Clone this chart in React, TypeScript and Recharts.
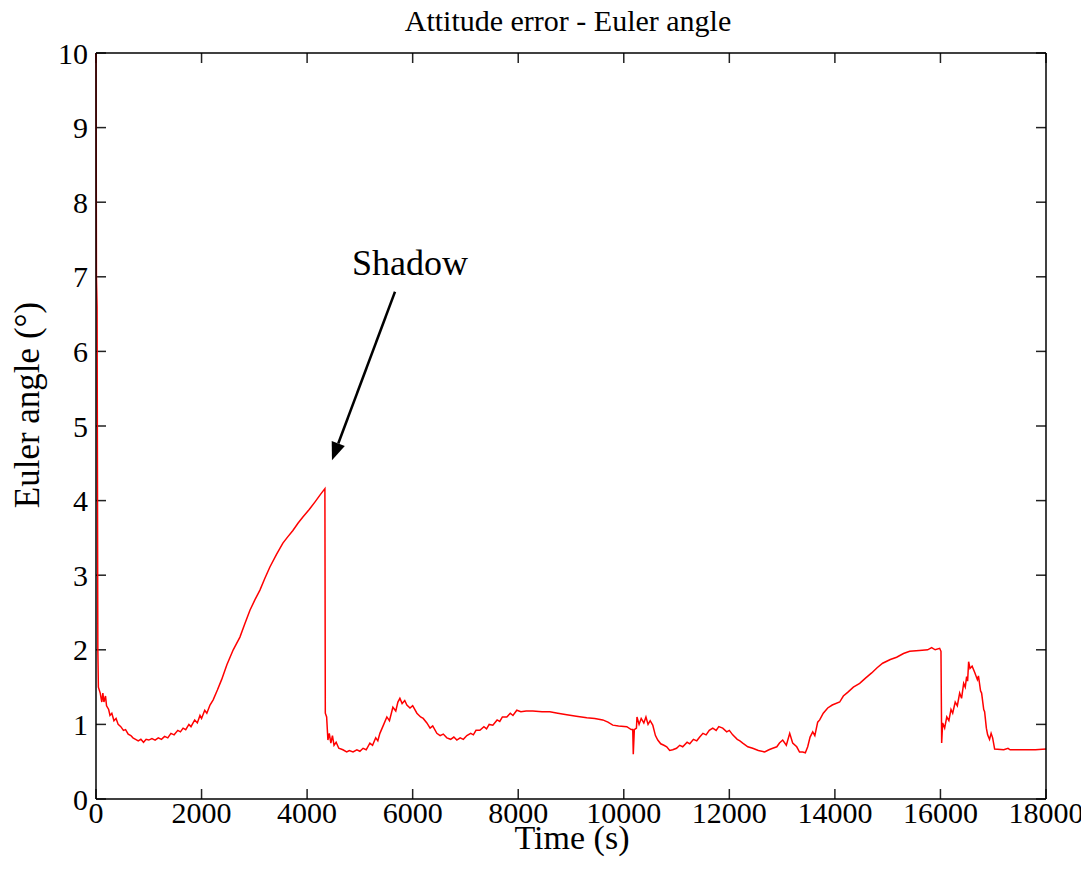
import React from 'react';
import { LineChart, Line, XAxis, YAxis, ReferenceLine, ReferenceDot, Customized } from 'recharts';

const timeS: number[] = [
  0, 8, 20, 35, 45, 80, 110, 130, 150, 180, 200, 240, 265, 300, 340, 380, 420, 470, 520, 560,
  610, 660, 700, 750, 800, 850, 900, 950, 1000, 1060, 1120, 1180, 1240, 1300, 1360, 1420, 1480, 1550, 1600, 1650,
  1700, 1760, 1800, 1870, 1920, 1970, 2000, 2060, 2100, 2160, 2220, 2300, 2380, 2480, 2600, 2727, 2820, 2917, 3010, 3106,
  3200, 3295, 3420, 3541, 3640, 3731, 3830, 3920, 4040, 4147, 4250, 4337, 4345, 4370, 4394, 4420, 4450, 4480, 4510, 4550,
  4600, 4678, 4750, 4800, 4870, 4943, 5000, 5060, 5120, 5189, 5240, 5300, 5340, 5379, 5440, 5511, 5560, 5625, 5680, 5720,
  5758, 5800, 5850, 5890, 5950, 6000, 6080, 6150, 6200, 6269, 6330, 6380, 6458, 6520, 6580, 6648, 6720, 6780, 6837, 6900,
  6960, 7027, 7100, 7150, 7200, 7273, 7350, 7400, 7450, 7519, 7600, 7650, 7700, 7784, 7850, 7900, 7973, 8050, 8150, 8277,
  8450, 8598, 8750, 8920, 9100, 9299, 9450, 9602, 9700, 9792, 9900, 10057, 10140, 10170, 10180, 10200, 10240, 10250, 10290, 10330,
  10380, 10420, 10460, 10500, 10549, 10600, 10644, 10700, 10760, 10814, 10870, 10928, 11000, 11060, 11117, 11200, 11250, 11320, 11383, 11439,
  11500, 11560, 11620, 11686, 11750, 11800, 11875, 11950, 12000, 12064, 12150, 12200, 12254, 12350, 12443, 12550, 12670, 12750, 12822, 12900,
  12950, 13011, 13080, 13144, 13200, 13277, 13330, 13390, 13440, 13485, 13530, 13580, 13620, 13674, 13712, 13780, 13864, 13950, 14091, 14160,
  14242, 14350, 14470, 14580, 14697, 14800, 14905, 15050, 15170, 15300, 15417, 15600, 15758, 15833, 15900, 15985, 16010, 16023, 16042, 16080,
  16120, 16160, 16200, 16232, 16280, 16320, 16364, 16400, 16440, 16470, 16496, 16515, 16534, 16560, 16600, 16648, 16700, 16720, 16760, 16780,
  16820, 16837, 16870, 16894, 16930, 16960, 16989, 17027, 17200, 17280, 17320, 17500, 17800, 18000,
];

const eulerDeg: number[] = [
  10.5, 7.0, 6.6, 2.0, 1.5, 1.42, 1.3, 1.42, 1.3, 1.38, 1.25, 1.2, 1.12, 1.15, 1.05, 1.08, 1.0, 0.97, 0.92, 0.93,
  0.87, 0.85, 0.82, 0.8, 0.78, 0.8, 0.76, 0.8, 0.79, 0.81, 0.79, 0.82, 0.8, 0.84, 0.82, 0.88, 0.86, 0.92, 0.9, 0.95,
  0.93, 1.0, 0.97, 1.06, 1.02, 1.12, 1.08, 1.19, 1.15, 1.26, 1.33, 1.46, 1.6, 1.8, 2.0, 2.17, 2.35, 2.53, 2.67, 2.8,
  2.96, 3.11, 3.28, 3.43, 3.52, 3.6, 3.7, 3.78, 3.88, 3.98, 4.08, 4.16, 1.15, 1.1, 0.79, 0.88, 0.75, 0.85, 0.72, 0.76,
  0.68, 0.66, 0.63, 0.65, 0.63, 0.66, 0.64, 0.68, 0.66, 0.75, 0.72, 0.82, 0.78, 0.88, 0.98, 1.1, 1.05, 1.23, 1.18, 1.3,
  1.35, 1.28, 1.32, 1.26, 1.22, 1.25, 1.15, 1.1, 1.08, 1.02, 0.95, 0.98, 0.88, 0.85, 0.87, 0.82, 0.8, 0.83, 0.79, 0.82,
  0.8, 0.85, 0.88, 0.86, 0.92, 0.92, 0.97, 0.94, 1.0, 0.99, 1.06, 1.04, 1.1, 1.1, 1.15, 1.12, 1.19, 1.17, 1.18, 1.18,
  1.17, 1.17, 1.15, 1.13, 1.11, 1.09, 1.08, 1.06, 1.03, 0.99, 0.98, 0.97, 0.93, 0.93, 0.6, 0.93, 0.95, 1.1, 1.0, 1.08,
  1.02, 1.1, 1.0, 1.05, 0.99, 0.85, 0.79, 0.74, 0.72, 0.7, 0.65, 0.66, 0.68, 0.72, 0.7, 0.76, 0.74, 0.8, 0.78, 0.83,
  0.88, 0.86, 0.92, 0.95, 0.92, 0.97, 0.95, 0.9, 0.92, 0.86, 0.8, 0.78, 0.75, 0.7, 0.68, 0.65, 0.63, 0.66, 0.68, 0.7,
  0.75, 0.79, 0.72, 0.88, 0.75, 0.7, 0.63, 0.63, 0.62, 0.7, 0.83, 0.9, 0.85, 1.03, 1.06, 1.15, 1.22, 1.26, 1.3, 1.38,
  1.43, 1.5, 1.55, 1.62, 1.69, 1.76, 1.82, 1.87, 1.9, 1.95, 1.98, 1.99, 2.0, 2.03, 2.0, 2.02, 1.98, 0.75, 1.02, 0.95,
  1.1, 1.05, 1.2, 1.15, 1.3, 1.25, 1.42, 1.35, 1.55, 1.5, 1.64, 1.58, 1.84, 1.75, 1.78, 1.7, 1.6, 1.65, 1.45, 1.42,
  1.2, 1.17, 0.95, 0.86, 0.8, 0.88, 0.82, 0.67, 0.66, 0.68, 0.66, 0.66, 0.66, 0.67,
];

const xTicks: number[] = [0, 2000, 4000, 6000, 8000, 10000, 12000, 14000, 16000, 18000];
const yTicks: number[] = [0, 1, 2, 3, 4, 5, 6, 7, 8, 9, 10];

const X_MIN = 0;
const X_MAX = 18000;
const Y_MIN = 0;
const Y_MAX = 10;
// inward tick length, in data units (about 10 px on each axis)
const X_TICK_LEN = 190;
const Y_TICK_LEN = 0.134;

const arrowFrom = { x: 5665, y: 6.8 };
const arrowTo = { x: 4471, y: 4.54 };
const shadowLabel = { x: 4850, y: 7.02, text: 'Shadow' };

const data = timeS.map((t, i) => ({ t, v: eulerDeg[i] }));

const FONT = '"Liberation Serif", "Times New Roman", serif';
const tickStyle = { fontFamily: FONT, fontSize: 30, fill: '#000' };
const axisLineStyle = { stroke: '#000', strokeWidth: 1.5 };

const ArrowShape = (p: any) => {
  const { x1, y1, x2, y2 } = p;
  const dx = x2 - x1;
  const dy = y2 - y1;
  const len = Math.sqrt(dx * dx + dy * dy);
  const ux = dx / len;
  const uy = dy / len;
  const headLen = 18;
  const headW = 7;
  const bx = x2 - ux * headLen;
  const by = y2 - uy * headLen;
  const px = -uy;
  const py = ux;
  return (
    <g>
      <line x1={x1} y1={y1} x2={bx} y2={by} stroke="#000" strokeWidth={2.5} />
      <polygon
        points={`${x2},${y2} ${bx + px * headW},${by + py * headW} ${bx - px * headW},${by - py * headW}`}
        fill="#000"
      />
    </g>
  );
};

const TickShape = (p: any) => (
  <line x1={p.x1} y1={p.y1} x2={p.x2} y2={p.y2} stroke="#222" strokeWidth={1.5} />
);

const Titles = () => (
  <g>
    <text x={568} y={31} textAnchor="middle" fontFamily={FONT} fontSize={30} fill="#000">
      Attitude error - Euler angle
    </text>
    <text x={572} y={849} textAnchor="middle" fontFamily={FONT} fontSize={34} fill="#000">
      Time (s)
    </text>
    <text
      x={39}
      y={405}
      textAnchor="middle"
      fontFamily={FONT}
      fontSize={35}
      fill="#000"
      transform="rotate(-90 39 405)"
    >
      Euler angle (°)
    </text>
  </g>
);

export default function App() {
  const tickSegments: { a: { x: number; y: number }; b: { x: number; y: number } }[] = [];
  xTicks.forEach((x) => {
    tickSegments.push({ a: { x, y: Y_MIN }, b: { x, y: Y_MIN + Y_TICK_LEN } });
    tickSegments.push({ a: { x, y: Y_MAX }, b: { x, y: Y_MAX - Y_TICK_LEN } });
  });
  yTicks.forEach((y) => {
    tickSegments.push({ a: { x: X_MIN, y }, b: { x: X_MIN + X_TICK_LEN, y } });
    tickSegments.push({ a: { x: X_MAX, y }, b: { x: X_MAX - X_TICK_LEN, y } });
  });

  return (
    <div style={{ width: 1089, height: 876, background: '#fff', margin: '-8px 0 0 -8px' }}>
      <LineChart width={1089} height={876} data={data} margin={{ top: 52, right: 42, bottom: 33, left: 36 }}>
        <XAxis
          dataKey="t"
          type="number"
          domain={[X_MIN, X_MAX]}
          ticks={xTicks}
          interval={0}
          height={44}
          tickSize={0}
          tickMargin={3}
          tick={tickStyle}
          axisLine={axisLineStyle}
          tickLine={false}
        />
        <XAxis
          xAxisId="top"
          orientation="top"
          dataKey="t"
          type="number"
          domain={[X_MIN, X_MAX]}
          ticks={xTicks}
          interval={0}
          height={1}
          tickSize={0}
          tick={false}
          axisLine={axisLineStyle}
          tickLine={false}
        />
        <YAxis
          type="number"
          domain={[Y_MIN, Y_MAX]}
          ticks={yTicks}
          interval={0}
          allowDataOverflow
          width={60}
          tickSize={0}
          tickMargin={8}
          tick={tickStyle}
          axisLine={axisLineStyle}
          tickLine={false}
        />
        <YAxis
          yAxisId="right"
          orientation="right"
          type="number"
          domain={[Y_MIN, Y_MAX]}
          ticks={yTicks}
          interval={0}
          width={1}
          tickSize={0}
          tick={false}
          axisLine={axisLineStyle}
          tickLine={false}
        />
        {tickSegments.map((s, i) => (
          <ReferenceLine key={`tk${i}`} segment={[s.a, s.b]} shape={TickShape} ifOverflow="visible" />
        ))}
        <Line
          type="linear"
          dataKey="v"
          stroke="#ff0000"
          strokeWidth={1.5}
          dot={false}
          isAnimationActive={false}
        />
        <ReferenceLine segment={[arrowFrom, arrowTo]} shape={ArrowShape} ifOverflow="visible" />
        <ReferenceDot
          x={shadowLabel.x}
          y={shadowLabel.y}
          ifOverflow="visible"
          shape={(p: any) => (
            <text x={p.cx} y={p.cy} fontFamily={FONT} fontSize={36} fill="#000">
              {shadowLabel.text}
            </text>
          )}
        />
        <Customized component={Titles} />
      </LineChart>
    </div>
  );
}
